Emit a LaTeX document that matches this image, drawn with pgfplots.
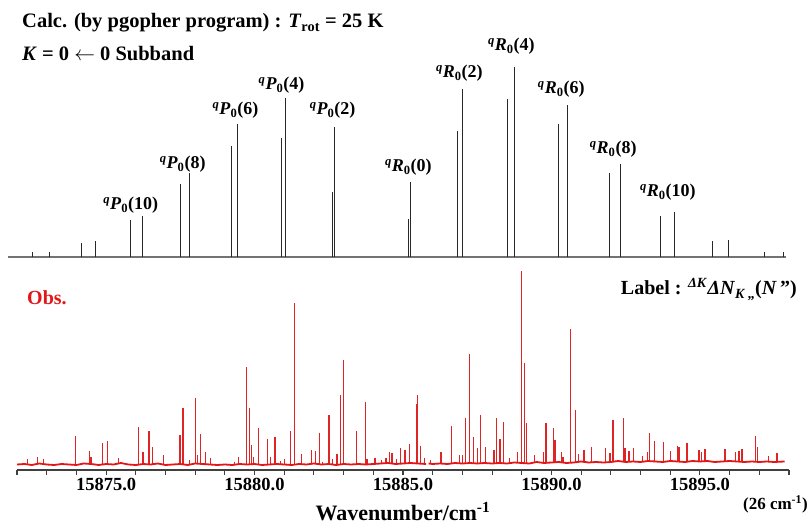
\documentclass[border=0pt]{standalone}
\usepackage{fontspec}
\setmainfont{Liberation Serif}
\usepackage{pgfplots}
\pgfplotsset{compat=1.18}
\usepackage{pgfplotstable}

\definecolor{obsred}{RGB}{226,22,22}
\definecolor{spikered}{RGB}{222,36,36}
\definecolor{stick}{RGB}{40,40,40}

\newcommand{\lbl}[3]{\textsuperscript{\textit{q}}\textit{#1}\textsubscript{#2}(#3)}

% calculated stick spectrum (x, intensity)
\pgfplotstableread{
x h
15872.51 5
15873.08 5
15874.18 14
15874.65 16
15875.83 37
15876.23 41
15877.51 73
15877.82 84
15879.21 111
15879.42 133
15880.90 119
15881.05 159
15882.64 65
15882.69 130
15885.19 38
15885.24 75
15886.85 126
15887.00 168
15888.53 158
15888.76 190
15890.23 133
15890.54 152
15891.95 84
15892.33 93
15893.68 41
15894.13 45
15895.41 16
15895.96 17
15897.17 5
15897.80 5
}\calc

% observed peaks: position, peak height, local baseline
\pgfplotstableread{
x h b
15872.35 10.7 5.5
15872.70 12.7 5.5
15872.90 11 5.5
15873.98 34 5.5
15874.44 19.3 5.5
15874.49 13.3 5.5
15874.87 26.7 5.5
15875.05 28.7 5.5
15875.41 12 5.5
15876.09 42.7 5.5
15876.24 18 5.5
15876.45 38.7 5.5
15876.57 22.7 5.5
15876.94 14.7 5.5
15877.49 34.7 5.5
15877.59 61.7 5.5
15877.82 10 5.5
15878.01 72 5.5
15878.09 15 5.5
15878.19 35.7 5.5
15878.34 17.5 5.5
15878.52 12 5.5
15879.33 8.3 5.5
15879.47 13 5.5
15879.74 103.3 5.5
15879.84 62.3 5.5
15879.89 25 5.5
15879.96 13 5.5
15880.14 42 5.5
15880.44 31 5.5
15880.53 13.3 5.5
15880.69 32.7 5.5
15880.87 9 5.5
15881.02 11 5.5
15881.21 39 5.5
15881.35 166.7 5.5
15881.57 15.7 5.5
15881.91 19.7 5.5
15882.05 19 5.5
15882.18 37.3 5.5
15882.30 8.3 5.5
15882.51 54.7 5.5
15882.62 10.7 5.5
15882.78 16.3 5.5
15882.90 75 5.5
15882.99 110 5.5
15883.43 39 5.5
15883.74 68.3 5.5
15883.79 11 5.5
15884.06 12.3 6
15884.27 10 6
15884.43 12.3 6
15884.54 17.7 6
15884.63 16.7 6
15884.77 11 6
15884.91 22.3 6
15885.07 20 6
15885.21 26 6
15885.45 65.7 6
15885.49 75 6
15885.58 24 6
15885.73 12.3 6
15885.92 10 6.5
15886.28 17.7 6.5
15886.63 44.3 6.5
15886.90 15 6.5
15887.00 15 6.5
15887.10 52.3 6.5
15887.23 115.7 6.5
15887.37 33.3 6.5
15887.52 21.7 6.5
15887.60 55 6.5
15887.79 22.7 6.5
15888.06 20 7
15888.14 52.3 7
15888.27 30.7 7
15888.39 47.7 7
15888.58 11.7 7
15888.85 18.3 7
15889.00 199 7
15889.09 107.3 7
15889.15 46.7 7
15889.42 15 7
15889.73 18.3 7.5
15889.82 46.7 7.5
15890.07 42 7.5
15890.12 30 7.5
15890.33 18.3 7.5
15890.39 13.3 7.5
15890.64 141 7.5
15890.81 60 7.5
15890.90 15.7 7.5
15891.10 20 8
15891.36 23.3 8
15891.81 21.7 8
15891.97 17.3 8
15892.07 50 8
15892.42 51.7 8
15892.48 21.7 8
15892.61 19.3 8
15892.76 22.3 8
15893.06 14 8.5
15893.23 18.3 8.5
15893.31 36.7 8.5
15893.48 29.3 8.5
15893.78 28 8.5
15894.01 19 8.5
15894.25 24 8.5
15894.30 22.7 8.5
15894.56 27.3 8.5
15894.97 20 8.5
15895.06 17.7 8.5
15895.17 20.7 8.5
15895.84 20.7 8.5
15896.19 17.7 8.5
15896.32 19.3 8.5
15896.42 20.7 8.5
15896.88 34 8.5
15896.94 23.3 8.5
15897.32 14 8.5
15897.60 16.7 8.5
}\obspeaks

\pgfplotstableread{
x y
15872.00 5.5
15872.25 6
15872.50 5
15872.75 6.5
15873.00 5.5
15873.25 5
15873.50 6
15873.75 5.5
15874.00 5
15874.25 6.5
15874.50 6
15874.75 5
15875.00 6
15875.25 5.5
15875.50 7
15875.75 5.5
15876.00 5
15876.25 6
15876.50 5.5
15876.75 6.5
15877.00 5
15877.25 5.5
15877.50 6
15877.75 5
15878.00 6.5
15878.25 6
15878.50 5.5
15878.75 5
15879.00 5.5
15879.25 5
15879.50 6
15879.75 5.5
15880.00 6
15880.25 5
15880.50 5.5
15880.75 6
15881.00 5.5
15881.25 5
15881.50 6
15881.75 5.5
15882.00 6.5
15882.25 5.5
15882.50 6
15882.75 5
15883.00 6
15883.25 5.5
15883.50 6
15883.75 5.5
15884.00 6
15884.25 6.5
15884.50 7
15884.75 6
15885.00 6.5
15885.25 7
15885.50 6.5
15885.78 6
}\baseA

\pgfplotstableread{
x y
15885.86 6.5
15886.00 6
15886.25 6.5
15886.50 6
15886.75 7
15887.00 6.5
15887.25 7
15887.50 6.5
15887.75 7
15888.00 6.5
15888.25 7
15888.50 6.5
15888.75 7.5
15889.00 7
15889.25 6.5
15889.50 8
15889.75 7
15890.00 7.5
15890.25 8
15890.50 7
15890.75 7.5
15891.00 8.5
15891.25 7.5
15891.50 8
15891.75 7.5
15892.00 8
15892.25 9
15892.50 8
15892.75 8.5
15893.00 8
15893.25 9
15893.50 8.5
15893.75 8
15894.00 9
15894.25 8.5
15894.50 8
15894.75 9
15895.00 8.5
15895.25 9
15895.50 8
15895.75 8.5
15896.00 9
15896.25 8.5
15896.50 8
15896.75 8.5
15897.00 8
15897.25 8.5
15897.50 8
15897.85 8.5
}\baseB

\begin{document}
\begin{tikzpicture}
\path[use as bounding box] (0pt,0pt) rectangle (809pt,-526pt);

% titles
\node[anchor=base west, inner sep=0pt, font=\fontsize{20.5}{24}\selectfont\bfseries] at (22pt,-28pt)
  {Calc. (by pgopher program) : \textit{T}\textsubscript{rot} = 25 K};
\node[anchor=base west, inner sep=0pt, font=\fontsize{20.5}{24}\selectfont\bfseries] at (22pt,-61pt)
  {\textit{K} = 0 $\leftarrow$ 0 Subband};

% calculated sticks
\begin{axis}[at={(17pt,-257pt)}, anchor=south west, scale only axis,
  width=772pt, height=200pt, xmin=15872, xmax=15898, ymin=0, ymax=200,
  hide axis, clip=false]
\draw[black!55, line width=1.6pt] (axis cs:15871.7,0) -- (axis cs:15897.9,0);
\addplot[ycomb, stick, line width=1pt, mark=none] table[x=x,y=h]{\calc};
\begin{scope}[every node/.style={anchor=base, inner sep=0pt, font=\fontsize{18}{20}\selectfont\bfseries}]
\node at (axis cs:15875.83,47) {\lbl{P}{0}{10}};
\node at (axis cs:15877.58,88) {\lbl{P}{0}{8}};
\node at (axis cs:15879.36,142) {\lbl{P}{0}{6}};
\node at (axis cs:15880.91,167) {\lbl{P}{0}{4}};
\node at (axis cs:15882.63,142) {\lbl{P}{0}{2}};
\node at (axis cs:15885.18,85) {\lbl{R}{0}{0}};
\node at (axis cs:15886.90,179) {\lbl{R}{0}{2}};
\node at (axis cs:15888.65,206) {\lbl{R}{0}{4}};
\node at (axis cs:15890.33,163) {\lbl{R}{0}{6}};
\node at (axis cs:15892.08,103) {\lbl{R}{0}{8}};
\node at (axis cs:15893.92,60) {\lbl{R}{0}{10}};
\end{scope}
\end{axis}

% observed spectrum
\begin{axis}[at={(17pt,-470pt)}, anchor=south west, scale only axis,
  width=772pt, height=210pt, xmin=15872, xmax=15898, ymin=0, ymax=210,
  axis x line*=bottom, axis y line=none, scaled x ticks=false,
  xtick={15875,15880,15885,15890,15895},
  minor xtick={15872,15873,...,15898},
  tick align=outside, major tick length=5pt, minor tick length=5pt,
  x axis line style={line width=1.3pt, black!75},
  every tick/.style={line width=1.1pt, black!75},
  xticklabel style={font=\fontsize{18.5}{20}\selectfont\bfseries,
    /pgf/number format/.cd, fixed, fixed zerofill, precision=1, 1000 sep={}, assume math mode=true},
  clip=false]
\addplot[draw=spikered, color=spikered, line width=1.3pt, mark=none,
  quiver={u=0, v=\thisrow{b}-\thisrow{h},
    every arrow/.append style={draw=spikered, line width=1.3pt}}]
  table[x=x, y=h] {\obspeaks};
\addplot[obsred, line width=1.8pt, mark=none] table[x=x,y=y]{\baseA};
\addplot[obsred, line width=1.8pt, mark=none] table[x=x,y=y]{\baseB};
\end{axis}

\node[anchor=base west, inner sep=0pt, text=obsred, font=\fontsize{20}{24}\selectfont\bfseries] at (27pt,-305pt) {Obs.};
\node[anchor=base east, inner sep=0pt, font=\fontsize{20}{24}\selectfont\bfseries] at (797pt,-295pt)
  {Label : \textsuperscript{\textit{ΔK}}\textit{ΔN}\textsubscript{\textit{K}\,„}(\textit{N}\,”)};
\node[anchor=base east, inner sep=0pt, font=\fontsize{17}{20}\selectfont\bfseries] at (808pt,-510pt)
  {(26 cm\textsuperscript{-1})};
\node[anchor=base, inner sep=0pt, font=\fontsize{22}{24}\selectfont\bfseries] at (403pt,-520pt)
  {Wavenumber/cm\textsuperscript{-1}};
\end{tikzpicture}
\end{document}
